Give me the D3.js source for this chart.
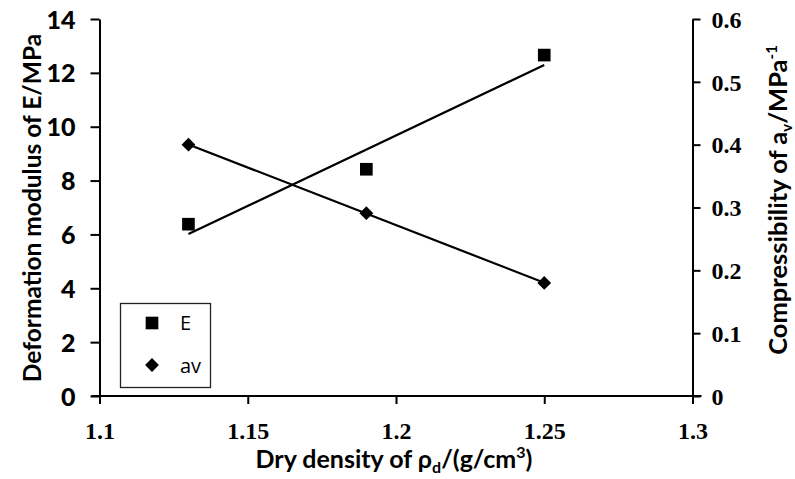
<!DOCTYPE html>
<html><head><meta charset="utf-8">
<script src="https://cdn.jsdelivr.net/npm/d3@7"></script>
<style>body{margin:0;background:#fff}svg{display:block}</style>
</head><body>
<svg id="c" width="795" height="479"></svg>
<script>
const density = [1.13, 1.19, 1.25];
const modulusE = [6.38, 8.42, 12.66];
const compressAv = [0.40, 0.291, 0.18];
const xTicks = [1.1, 1.15, 1.2, 1.25, 1.3];
const yLeftTicks = [0, 2, 4, 6, 8, 10, 12, 14];
const yRightTicks = [0, 0.1, 0.2, 0.3, 0.4, 0.5, 0.6];
const legendLabels = ["E", "av"];

const svg = d3.select("#c");
const L = 99.5, R = 692.5, T = 19, B = 396;
const x = d3.scaleLinear().domain([1.1, 1.3]).range([L, R]);
const yL = d3.scaleLinear().domain([0, 14]).range([B, T]);
const yR = d3.scaleLinear().domain([0, 0.6]).range([B, T]);

const sans = "Lato, 'Open Sans', sans-serif";
const serif = "'Liberation Serif', 'DejaVu Serif', serif";

// axes
const gx = svg.append("g").attr("transform", `translate(0,${B})`)
  .call(d3.axisBottom(x).tickValues(xTicks).tickFormat(d3.format("")).tickSize(8).tickSizeOuter(0));
const gl = svg.append("g").attr("transform", `translate(${L},0)`)
  .call(d3.axisLeft(yL).tickValues(yLeftTicks).tickSize(9).tickSizeOuter(0));
const gr = svg.append("g").attr("transform", `translate(${R},0)`)
  .call(d3.axisRight(yR).tickValues(yRightTicks).tickFormat(d3.format("")).tickSize(8).tickSizeOuter(0));
[gx, gl, gr].forEach(g => {
  g.attr("font-family", null).attr("font-size", null);
  g.select(".domain").attr("stroke", "#000").attr("stroke-width", 2);
  g.selectAll(".tick line").attr("stroke", "#000").attr("stroke-width", 2);
});
gx.select(".domain").attr("d", `M${L - 8},0H${R + 9}`);
gx.selectAll(".tick text").style("font-family", serif).style("font-weight", "bold")
  .style("font-size", "24px").attr("fill", "#000").attr("dy", null).attr("y", 43);
gl.selectAll(".tick text").style("font-family", sans).style("font-weight", "900")
  .style("font-size", "25px").attr("fill", "#000").attr("x", -24).attr("dy", "0.36em");
gr.selectAll(".tick text").style("font-family", serif).style("font-weight", "bold")
  .style("font-size", "24px").attr("fill", "#000").attr("x", 19).attr("dy", "0.34em");

// trend lines (least squares)
function fit(xs, ys) {
  const mx = d3.mean(xs), my = d3.mean(ys);
  const b = d3.sum(xs, (v, i) => (v - mx) * (ys[i] - my)) / d3.sum(xs, v => (v - mx) ** 2);
  return v => my + b * (v - mx);
}
const fE = fit(density, modulusE), fA = fit(density, compressAv);
const x0 = d3.min(density), x1 = d3.max(density);
const line = d3.line();
svg.append("path").attr("d", line([[x(x0), yL(fE(x0))], [x(x1), yL(fE(x1))]]))
  .attr("stroke", "#000").attr("stroke-width", 2.2).attr("fill", "none");
svg.append("path").attr("d", line([[x(x0), yR(fA(x0))], [x(x1), yR(fA(x1))]]))
  .attr("stroke", "#000").attr("stroke-width", 2.2).attr("fill", "none");

// markers
const sq = d3.symbol().type(d3.symbolSquare).size(160);
const dm = d3.symbol().type(d3.symbolSquare).size(95);
svg.append("g").selectAll("path").data(density).join("path")
  .attr("d", sq).attr("transform", (d, i) => `translate(${x(d)},${yL(modulusE[i])})`).attr("fill", "#000");
svg.append("g").selectAll("path").data(density).join("path")
  .attr("d", dm)
  .attr("transform", (d, i) => `translate(${x(d)},${yR(compressAv[i])}) rotate(45)`).attr("fill", "#000");

// legend
const lg = svg.append("g");
lg.append("rect").attr("x", 120.5).attr("y", 303.5).attr("width", 90).attr("height", 84)
  .attr("fill", "#fff").attr("stroke", "#222").attr("stroke-width", 1.3);
lg.append("path").attr("d", sq).attr("transform", "translate(152,323)").attr("fill", "#000");
lg.append("path").attr("d", dm).attr("transform", "translate(152,365) rotate(45)").attr("fill", "#000");
legendLabels.forEach((t, i) => {
  lg.append("text").attr("x", 180).attr("y", 323 + i * 43).attr("dy", "0.36em")
    .style("font-family", "'Open Sans', sans-serif").style("font-size", "20px").attr("fill", "#000").text(t);
});

// axis titles
const tl = svg.append("text").attr("transform", "translate(41,208) rotate(-90)")
  .attr("text-anchor", "middle").style("font-family", sans).style("font-weight", "bold")
  .style("font-size", "24.5px").attr("fill", "#000").text("Deformation modulus of E/MPa");

const tr = svg.append("text").attr("transform", "translate(787,200) rotate(-90)")
  .attr("text-anchor", "middle").style("font-family", sans).style("font-weight", "bold")
  .style("font-size", "25.5px").attr("fill", "#000");
tr.append("tspan").text("Compressibility of a");
tr.append("tspan").style("font-size", "15px").attr("dy", 5).text("v");
tr.append("tspan").attr("dy", -5).text("/MPa");
tr.append("tspan").style("font-size", "15px").attr("dy", -10).text("-1");

const tx = svg.append("text").attr("x", 394).attr("y", 468)
  .attr("text-anchor", "middle").style("font-family", sans).style("font-weight", "bold")
  .style("font-size", "25px").attr("fill", "#000");
tx.append("tspan").text("Dry density of ρ");
tx.append("tspan").style("font-size", "16px").attr("dy", 5).text("d");
tx.append("tspan").attr("dy", -5).text("/(g/cm");
tx.append("tspan").style("font-size", "16px").attr("dy", -10).text("3");
tx.append("tspan").attr("dy", 10).text(")");
</script>
</body></html>
